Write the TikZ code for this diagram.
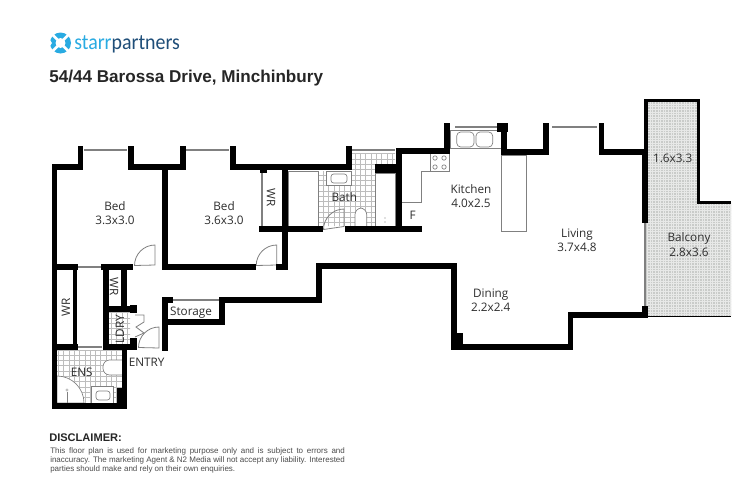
\documentclass[tikz,border=0pt]{standalone}
\usepackage{fontspec}
\setmainfont{Open Sans}
\newfontfamily\arialfont{Liberation Sans}
\newfontfamily\logofont{Carlito}
\usepackage{xcolor}
\definecolor{roomtext}{HTML}{2E2E2E}
\definecolor{starrblue}{HTML}{29ABE2}
\definecolor{partnerblue}{HTML}{1F4E79}
\definecolor{paving}{HTML}{C9CBC9}
\definecolor{tileline}{HTML}{BDBDBD}
\definecolor{fitting}{HTML}{808080}
\tikzset{
  wall/.style={line width=4.2pt, line cap=rect, line join=miter},
  thinwall/.style={line width=2.6pt, line cap=rect},
  balconywall/.style={line width=2.4pt, line join=miter},
  windowbar/.style={draw=fitting, line width=1.9pt},
  fixture/.style={draw=fitting, line width=0.5pt, fill=white},
  doorleaf/.style={draw=fitting, line width=0.6pt},
  tiles/.style={draw=tileline, line width=0.35pt, step=5.3},
  room/.style={font=\fontsize{8.8}{10.8}\selectfont, text=roomtext, align=center, inner sep=0pt}
}
\begin{document}
\begin{tikzpicture}[x=0.75pt, y=-0.75pt]
  \useasboundingbox[fill=white] (0,0) rectangle (750,500);

  % logo
  \fill[starrblue] (60.5,43) circle[radius=10.5];
  \fill[white] (60.5,43) circle[radius=5];
  \fill[white] (47,43) ellipse[x radius=5, y radius=3];
  \draw[white, line width=2pt] (50,32) -- (71,54) (50,54) -- (71,32);
  \node[font=\logofont\fontsize{16.4}{18}\selectfont, inner sep=0pt, anchor=base west] (logotext) at (74,49)
    {\scalebox{0.91}[1]{\textcolor{starrblue}{starr}\textcolor{partnerblue}{partners}}};

  % heading
  \node[font=\arialfont\bfseries\fontsize{12.83}{15}\selectfont, text=black!85, inner sep=0pt, anchor=base west] (address) at (49,82.5)
    {54/44 Barossa Drive, Minchinbury};

  % balcony paving
  \fill[paving] (646,100.7) -- (698.5,100.7) -- (698.5,202.5) -- (731,202.5) -- (731,316) -- (646,316) -- cycle;
  \begin{scope}[y=0.75pt]
    \clip (647,-102) -- (697,-102) -- (697,-204) -- (731,-204) -- (731,-316) -- (647,-316) -- cycle;
    \draw[white!55!paving, line width=0.3pt, step=2.6] (640,-320) grid (735,-95);
  \end{scope}

  % wet area tiles
  \begin{scope}[y=0.75pt]
    \clip (57,-350) rectangle (122,-403);
    \draw[tiles] (50,-408) grid (125,-345);
  \end{scope}
  \begin{scope}[y=0.75pt]
    \clip (108,-312) rectangle (130,-344);
    \draw[tiles] (105,-346) grid (132,-310);
  \end{scope}
  \begin{scope}[y=0.75pt]
    \clip (318,-171) -- (352,-171) -- (352,-153) -- (395,-153) -- (395,-173) -- (375,-173) -- (375,-226) -- (318,-226) -- cycle;
    \draw[tiles] (315,-228) grid (398,-150);
  \end{scope}

  % fittings in the wet areas
  \draw[fixture] (57,376) arc[start angle=270, end angle=360, radius=27] -- (57,403) -- cycle;
  \draw[fixture] (91.7,386.7) rectangle (113,405);
  \draw[fixture, rounded corners=2pt] (96,391) rectangle (110,400);
  \draw[fixture, rounded corners=5pt] (122,360) -- (103,360) -- (103,375) -- (122,375);
  \draw[fixture] (288,171) rectangle (318,226);
  \draw[fixture] (326.7,171) rectangle (351.7,185.7);
  \draw[fixture, rounded corners=2pt] (331,174) rectangle (347,183);
  \draw[fixture, rounded corners=5pt] (355,226) -- (355,208) -- (366.7,208) -- (366.7,226);
  \draw[fixture] (375,173) rectangle (395,226);
  \fill[fitting] (385,218) circle[radius=0.7] (385,222) circle[radius=0.7];
  \draw[fixture] (67,392) -- (67,404);
  \fill[fitting!50] (67,390) circle[radius=1.6];

  % kitchen benches
  \draw[fixture, fill=none] (402,202.7) -- (421,202.7) -- (421,171) -- (430,171);
  \draw[fixture] (430,153.3) rectangle (449,171.7);
  \draw[fixture] (435,158) circle[radius=2.2] (444,158) circle[radius=2.2] (435,167) circle[radius=2.2] (444,167) circle[radius=2.2];
  \draw[fixture] (450,130) rectangle (501.7,148);
  \draw[fixture, rounded corners=3pt] (456.7,132) rectangle (474,147);
  \draw[fixture, rounded corners=3pt] (476,132) rectangle (492.7,147);
  \draw[fixture, fill=none, line width=0.7pt] (501.7,155) rectangle (526.7,231.7);

  % windows
  \foreach \xa/\ya/\xb/\yb in {84/150/127/150, 186/150/229/150, 352/150/395/150, 455/127/497/127,
      552/127/597/127, 170/300/219/300, 262/172/262/226, 645/222/645/307,
      77/267/102/267, 77/347/102/347}
    \draw[windowbar] (\xa,\ya) -- (\xb,\yb);

  % doors
  \draw[doorleaf] (155,265) -- (155,245) arc[start angle=270, end angle=180, radius=20.5] -- cycle;
  \draw[doorleaf] (276.7,265) -- (276.7,245) arc[start angle=270, end angle=180, radius=20.5] -- cycle;
  \draw[doorleaf] (344,226.5) -- (344,209) arc[start angle=270, end angle=180, radius=20.5] -- cycle;
  \draw[doorleaf] (159,348) -- (159,327) arc[start angle=270, end angle=180, radius=20.5] -- cycle;
  \draw[doorleaf] (135,315) -- (144,315) -- (144,322) -- (136,327) -- (144,333) -- (135,337);

  % outer and inner walls
  \draw[wall] (80.5,149) -- (80.5,167) -- (54.5,167) -- (54.5,406) -- (124.5,406) -- (124.5,350);
  \draw[wall] (131,149) -- (131,167) -- (183,167) -- (183,149);
  \draw[wall] (233,149) -- (233,167) -- (349,167) -- (349,149);
  \draw[wall] (399,229) -- (399,151) -- (447,151) -- (447,125.5);
  \draw[wall] (504,125.5) -- (504,152) -- (546,152) -- (546,125.5);
  \draw[wall] (601.5,125.5) -- (601.5,152) -- (644.7,152) -- (644.7,220);
  \draw[wall] (644.7,309) -- (644.7,315) -- (570.5,315) -- (570.5,347) -- (454,347) -- (454,266)
    -- (318.7,266) -- (318.7,300) -- (222,300) -- (222,322) -- (165,322);
  \draw[wall] (165,348) -- (165,300) -- (170,300);
  \draw[wall] (165,167) -- (165,267) -- (253,267);
  \draw[wall] (279,267) -- (285,267) -- (285,167);
  \draw[wall] (262,229) -- (320,229);
  \draw[wall] (348,229) -- (419,229);
  \draw[wall] (57,267) -- (75,267);
  \draw[wall] (57,347) -- (75,347);
  \draw[thinwall] (75,267) -- (75,347);
  \draw[wall] (105.7,267) -- (105.7,347) -- (134,347);
  \draw[wall] (104,267) -- (130,267);
  \draw[wall] (124,267) -- (124,309);
  \draw[wall] (105.7,309) -- (134,309);

  % thick blocks where walls meet
  \fill (451,333) rectangle (463,350);
  \fill (130,338) rectangle (136.7,350);
  \fill (130,305) rectangle (136.7,313);
  \fill (375,164.3) rectangle (398,173.3);
  \fill (260,165) rectangle (267,173);
  \fill (116.7,388) rectangle (124,404);
  \fill (497,123) rectangle (508,132);

  % balcony edge
  \draw[balconywall] (646,155) -- (646,100.7) -- (698.5,100.7) -- (698.5,202.5) -- (731,202.5);
  \draw[black, line width=1pt] (646,316.8) -- (731,316.8);

  % room labels
  \node[room] (bedone) at (115,213) {Bed\\3.3x3.0};
  \node[room] (bedtwo) at (224,213) {Bed\\3.6x3.0};
  \node[room] (kitchen) at (471,196) {Kitchen\\4.0x2.5};
  \node[room] (living) at (577,240) {Living\\3.7x4.8};
  \node[room] (dining) at (490.7,300.5) {Dining\\2.2x2.4};
  \node[room] (balcony) at (689,244.5) {Balcony\\2.8x3.6};
  \node[room] (balconytop) at (672.7,158) {1.6x3.3};
  \node[room] (bath) at (344.3,197) {Bath};
  \node[room] (fridge) at (412.7,215) {F};
  \node[room] (storage) at (191,312.7) {Storage};
  \node[room] (entry) at (146.7,362) {ENTRY};
  \node[room] (ensuite) at (81.7,372.7) {ENS};
  \node[room, rotate=-90] (wrone) at (271,198) {WR};
  \node[room, rotate=-90] (wrtwo) at (114,287) {WR};
  \node[room, rotate=90] (wrthree) at (66,307) {WR};
  \node[room, rotate=90] (laundry) at (120,329) {LDRY};

  % disclaimer
  \node[font=\arialfont\bfseries\fontsize{8.3}{10}\selectfont, text=black!85, inner sep=0pt, anchor=base west] (disclaimerhead) at (49,441) {DISCLAIMER:};
  \node[font=\arialfont\fontsize{6}{6.75}\selectfont, text=black!70, inner sep=0pt, anchor=north west, text width=221pt, align=justify] (disclaimer) at (50,447.5)
    {This floor plan is used for marketing purpose only and is subject to errors and\linebreak
     inaccuracy. The marketing Agent \& N2 Media will not accept any liability. Interested\linebreak
     parties should make and rely on their own enquiries.};
\end{tikzpicture}
\end{document}
